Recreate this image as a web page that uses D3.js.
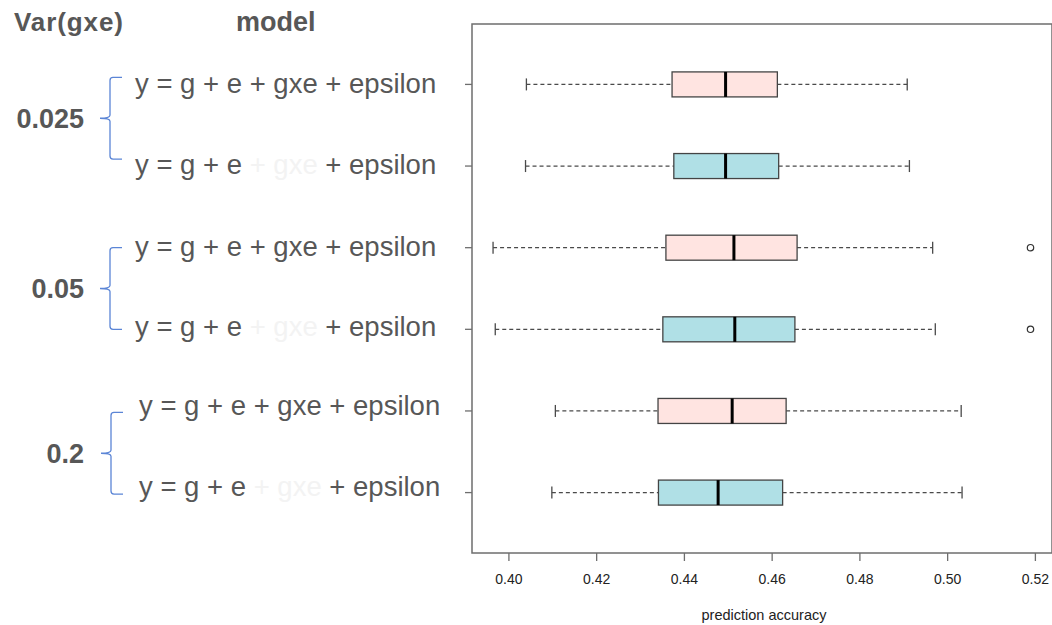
<!DOCTYPE html>
<html>
<head>
<meta charset="utf-8">
<script src="https://cdn.jsdelivr.net/npm/d3@7"></script>
<style>
  body { margin: 0; background: #fff; }
  svg { display: block; }
  text { font-family: "Liberation Sans", Arial, sans-serif; }
</style>
</head>
<body>
<div id="container"></div>
<script>
// Var(gxe) groups and models, top to bottom
const varGroups = ["0.025", "0.05", "0.2"]
const models = ["full", "reduced", "full", "reduced", "full", "reduced"]
// five-number summaries
const whiskLo = [0.4041, 0.4039, 0.3965, 0.3970, 0.4107, 0.4099]
const q1 = [0.4373, 0.4377, 0.4359, 0.4352, 0.4341, 0.4342]
const medians = [0.4495, 0.4495, 0.4514, 0.4516, 0.4510, 0.4478]
const q3 = [0.4613, 0.4616, 0.4658, 0.4653, 0.4633, 0.4625]
const whiskHi = [0.4909, 0.4914, 0.4967, 0.4973, 0.5032, 0.5034]
const outliers = [[], [], [0.5190], [0.5190], [], []]
const xTicks = [0.40, 0.42, 0.44, 0.46, 0.48, 0.50, 0.52]

const width = 1052
const height = 625
const frame = { left: 472, top: 24, bottom: 553 }
const fills = { full: "#ffe4e1", reduced: "#b0e0e6" }
const textGrey = "#575757"

// label placement tweaks (the labels were pasted in by hand)
const labelDx = [135, 135, 135, 135, 139, 139]
const labelDy = [9, 8, 8, 7, 4, 3]
const braceDy = [-7, 0, 1.5]
const braceX = [110, 110, 111]

const svg = d3.select('#container')
    .append('svg').attr('width', width).attr('height', height)

const x = d3.scaleLinear().domain([0.3917, 0.5239]).range([frame.left, width])
const y = d3.scaleLinear().domain([0.26, 6.74]).range([frame.top, frame.bottom])
const boxH = 25
const capH = 12

// frame
svg.append("rect")
    .attr("x", frame.left).attr("y", frame.top)
    .attr("width", x.range()[1] - frame.left)
    .attr("height", frame.bottom - frame.top)
    .attr("fill", "none").attr("stroke", "#6e6e6e").attr("stroke-width", 1.5)

// x axis
const xAxis = svg.append("g")
    .attr("transform", `translate(0,${frame.bottom})`)
    .call(d3.axisBottom(x).tickValues(xTicks).tickFormat(d3.format(".2f")).tickSize(8).tickPadding(13))
xAxis.select(".domain").remove()
xAxis.selectAll("line").attr("stroke", "#6e6e6e").attr("stroke-width", 1.3)
xAxis.selectAll("text").attr("font-size", 14).attr("fill", "#222")
    .style("font-family", "'Liberation Sans', Arial, sans-serif")

svg.append("text")
    .attr("x", 764).attr("y", 620)
    .attr("text-anchor", "middle").attr("font-size", 14.5).attr("fill", "#222")
    .text("prediction accuracy")

// y ticks
svg.selectAll(".ytick").data(models).enter().append("line")
    .attr("x1", frame.left - 7).attr("x2", frame.left)
    .attr("y1", (d, i) => y(i + 1)).attr("y2", (d, i) => y(i + 1))
    .attr("stroke", "#6e6e6e").attr("stroke-width", 1.3)

// boxes
const rows = svg.selectAll(".row").data(models).enter().append("g")
    .attr("transform", (d, i) => `translate(0,${y(i + 1)})`)

rows.append("line")
    .attr("x1", (d, i) => x(whiskLo[i])).attr("x2", (d, i) => x(q1[i]))
    .attr("stroke", "#4a4a4a").attr("stroke-width", 1.2).attr("stroke-dasharray", "4,3")
rows.append("line")
    .attr("x1", (d, i) => x(q3[i])).attr("x2", (d, i) => x(whiskHi[i]))
    .attr("stroke", "#4a4a4a").attr("stroke-width", 1.2).attr("stroke-dasharray", "4,3")
rows.append("line")
    .attr("x1", (d, i) => x(whiskLo[i])).attr("x2", (d, i) => x(whiskLo[i]))
    .attr("y1", -capH / 2).attr("y2", capH / 2)
    .attr("stroke", "#4a4a4a").attr("stroke-width", 1.3)
rows.append("line")
    .attr("x1", (d, i) => x(whiskHi[i])).attr("x2", (d, i) => x(whiskHi[i]))
    .attr("y1", -capH / 2).attr("y2", capH / 2)
    .attr("stroke", "#4a4a4a").attr("stroke-width", 1.3)
rows.append("rect")
    .attr("x", (d, i) => x(q1[i])).attr("y", -boxH / 2)
    .attr("width", (d, i) => x(q3[i]) - x(q1[i])).attr("height", boxH)
    .attr("fill", d => fills[d]).attr("stroke", "#444").attr("stroke-width", 1.3)
rows.append("line")
    .attr("x1", (d, i) => x(medians[i])).attr("x2", (d, i) => x(medians[i]))
    .attr("y1", -boxH / 2).attr("y2", boxH / 2)
    .attr("stroke", "#000").attr("stroke-width", 3)
rows.each(function(d, i) {
    d3.select(this).selectAll("circle").data(outliers[i]).enter().append("circle")
        .attr("cx", v => x(v)).attr("cy", 0).attr("r", 3.2)
        .attr("fill", "none").attr("stroke", "#333").attr("stroke-width", 1.2)
})

// left annotation panel
svg.append("text").attr("x", 14).attr("y", 31)
    .attr("font-size", 26).attr("font-weight", "bold").attr("fill", textGrey)
    .attr("letter-spacing", 0.9)
    .text("Var(gxe)")
svg.append("text").attr("x", 236).attr("y", 31)
    .attr("font-size", 27).attr("font-weight", "bold").attr("fill", textGrey)
    .text("model")

const formulas = svg.selectAll(".formula").data(models).enter().append("text")
    .attr("x", (d, i) => labelDx[i]).attr("y", (d, i) => y(i + 1) + labelDy[i])
    .attr("font-size", 27.5).attr("fill", textGrey)
    .attr("xml:space", "preserve").style("white-space", "pre")
formulas.append("tspan").text("y = g + e ")
formulas.append("tspan")
    .attr("fill", d => d === "full" ? textGrey : "#f3f3f3")
    .text("+ gxe ")
formulas.append("tspan").text("+ epsilon")

// braces
const brace = (top, bottom, xv) => {
    const mid = (top + bottom) / 2
    return `M${xv + 12},${top} L${xv + 3},${top} Q${xv},${top} ${xv},${top + 3}` +
        ` L${xv},${mid - 3} Q${xv},${mid} ${xv - 10},${mid} Q${xv},${mid} ${xv},${mid + 3}` +
        ` L${xv},${bottom - 3} Q${xv},${bottom} ${xv + 3},${bottom} L${xv + 12},${bottom}`
}
varGroups.forEach((g, k) => {
    const top = y(2 * k + 1) + braceDy[k]
    const bottom = y(2 * k + 2) + braceDy[k]
    svg.append("path")
        .attr("d", brace(top, bottom, braceX[k]))
        .attr("fill", "none").attr("stroke", "#5b85d6").attr("stroke-width", 1.3)
    svg.append("text")
        .attr("x", 84).attr("y", (top + bottom) / 2 + 9.5)
        .attr("text-anchor", "end")
        .attr("font-size", 27).attr("font-weight", "bold").attr("fill", textGrey)
        .text(g)
})
</script>
</body>
</html>
